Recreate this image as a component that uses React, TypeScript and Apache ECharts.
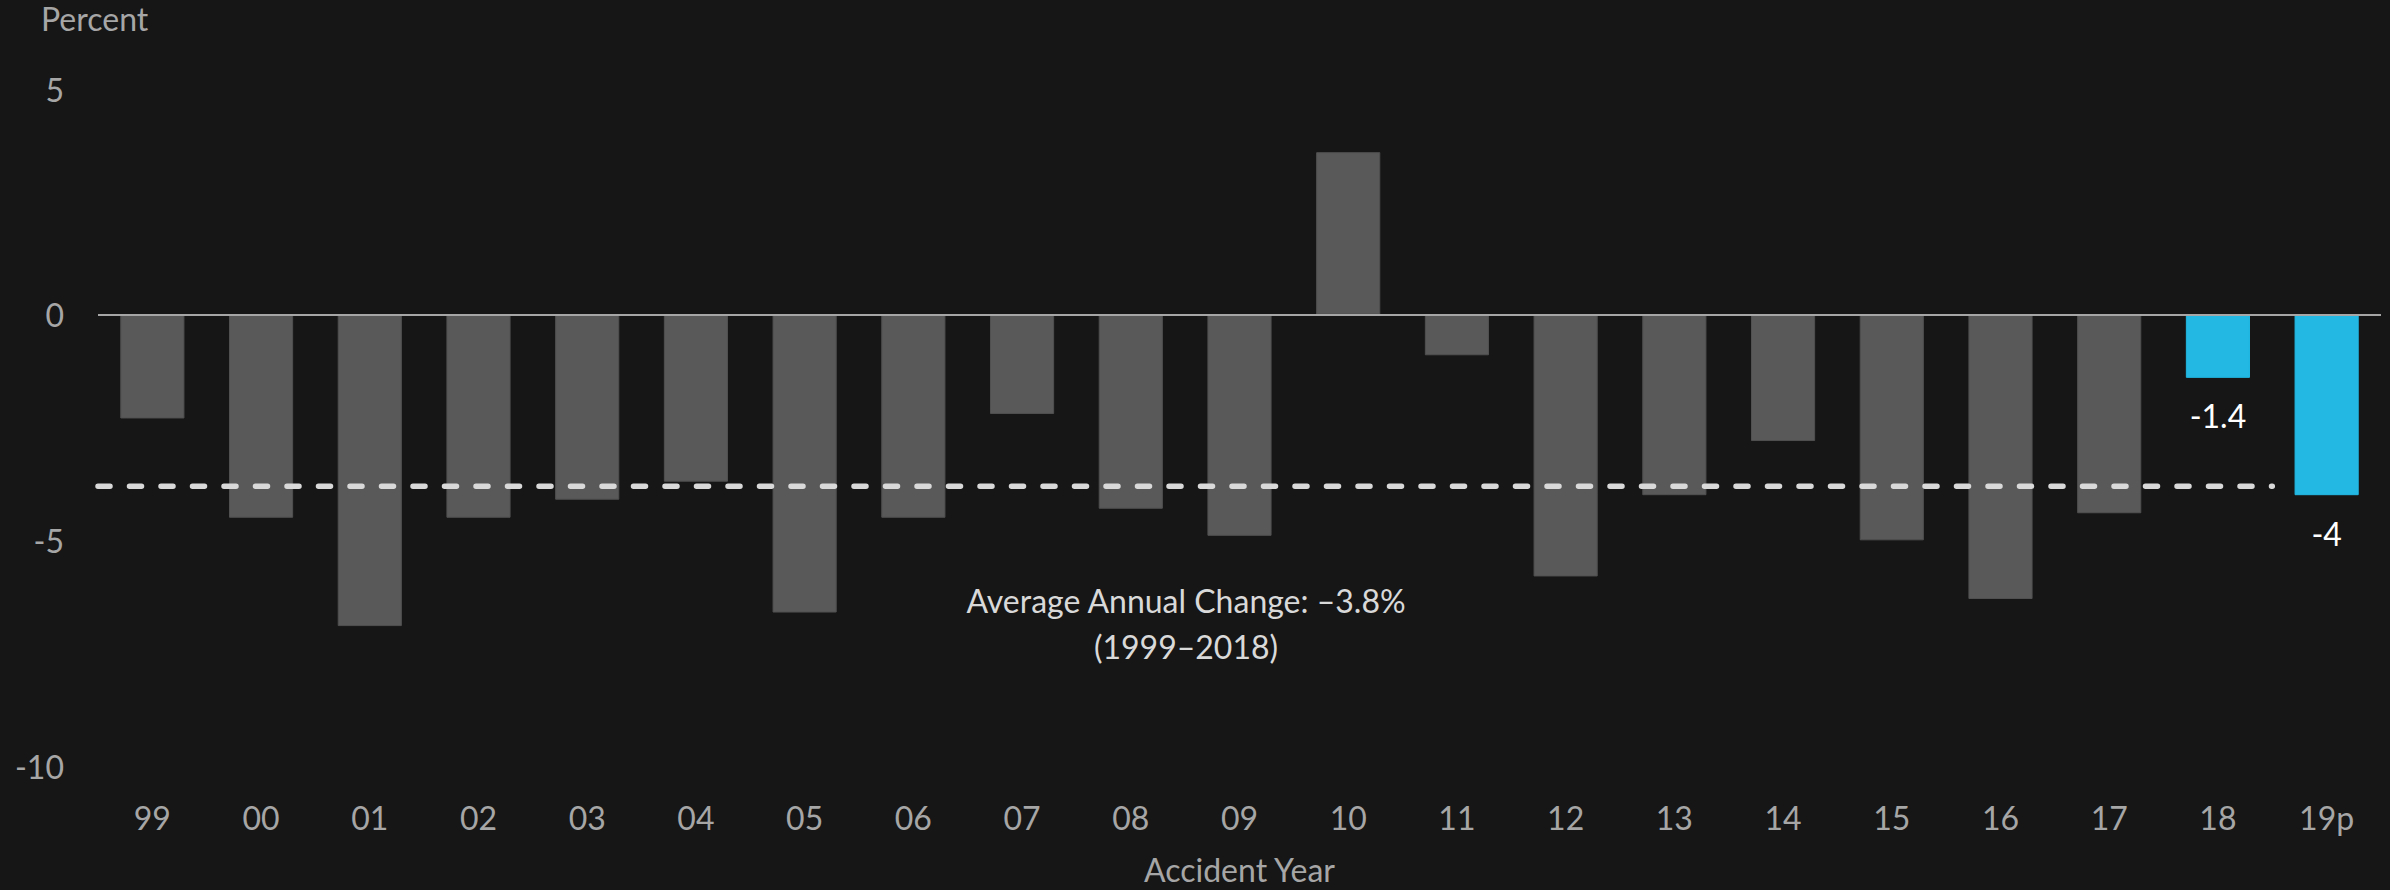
import React, { useEffect, useRef } from "react";
import * as echarts from "echarts";

const categories = ["99", "00", "01", "02", "03", "04", "05", "06", "07", "08", "09", "10", "11", "12", "13", "14", "15", "16", "17", "18", "19p"];
const changes = [-2.3, -4.5, -6.9, -4.5, -4.1, -3.7, -6.6, -4.5, -2.2, -4.3, -4.9, 3.6, -0.9, -5.8, -4.0, -2.8, -5.0, -6.3, -4.4, -1.4, -4];
const highlighted = ["18", "19p"];
const averageChange = -3.8;
const averageSpan = [0, 20]; // from start of "99" to end of "18" (category boundaries)
const yTicks = { min: -10, max: 5, interval: 5 };
const annotationLines = ["Average Annual Change: \u20133.8%", "(1999\u20132018)"];

const FONT = "Lato, 'Noto Sans', sans-serif";
const GRAY_TEXT = "#a6a6a6";

export default function App() {
  const ref = useRef<HTMLDivElement>(null);

  useEffect(() => {
    if (!ref.current) return;
    const chart = echarts.init(ref.current, null, { renderer: "svg" });

    const barData = changes.map((v, i) => {
      const hi = highlighted.includes(categories[i]);
      return {
        value: v,
        itemStyle: { color: hi ? "#22B8E3" : "#595959", borderColor: hi ? "#22B8E3" : "#505050", borderWidth: 1 },
        label: {
          show: hi,
          position: "outside",
          distance: 22,
          color: "#ffffff",
          fontSize: 32,
          fontFamily: FONT,
        },
      };
    });

    chart.setOption({
      animation: false,
      backgroundColor: "#161616",
      title: {
        text: "Percent",
        left: 36,
        top: -3,
        textStyle: { color: GRAY_TEXT, fontSize: 32, fontWeight: "normal", fontFamily: FONT },
      },
      grid: { left: 98, right: 9, top: 89, bottom: 117 },
      xAxis: [
        {
          type: "category",
          data: categories,
          axisLine: { show: false, onZero: false },
          axisTick: { show: false },
          axisLabel: { color: GRAY_TEXT, fontSize: 32, fontFamily: FONT, margin: 35 },
          name: "Accident Year",
          nameLocation: "middle",
          nameGap: 87,
          nameTextStyle: { color: GRAY_TEXT, fontSize: 32, fontFamily: FONT },
        },
        {
          type: "value",
          min: 0,
          max: categories.length,
          show: false,
        },
      ],
      yAxis: {
        type: "value",
        min: yTicks.min,
        max: yTicks.max,
        interval: yTicks.interval,
        axisLine: { show: false },
        axisTick: { show: false },
        splitLine: { show: false },
        axisLabel: { color: GRAY_TEXT, fontSize: 32, fontFamily: FONT, margin: 34 },
      },
      series: [
        {
          type: "bar",
          data: barData,
          barWidth: "59%",
          markLine: {
            silent: true,
            symbol: "none",
            label: { show: false },
            lineStyle: { color: GRAY_TEXT, width: 2, type: "solid" },
            data: [{ yAxis: 0 }],
          },
        },
        {
          type: "line",
          xAxisIndex: 1,
          data: averageSpan.map((x) => [x, averageChange]),
          symbol: "none",
          silent: true,
          lineStyle: { color: "#d9d9d9", width: 5.5, type: [12, 19.5], cap: "round" },
        },
      ],
      graphic: [
        {
          type: "text",
          x: 1186,
          y: 577,
          style: {
            text: annotationLines.join("\n"),
            fill: "#d9d9d9",
            font: `32px ${FONT}`,
            align: "center",
            lineHeight: 46,
          },
        },
      ],
    });

    return () => chart.dispose();
  }, []);

  return (
    <div
      ref={ref}
      style={{ position: "fixed", left: 0, top: 0, width: 2390, height: 890 }}
    />
  );
}
